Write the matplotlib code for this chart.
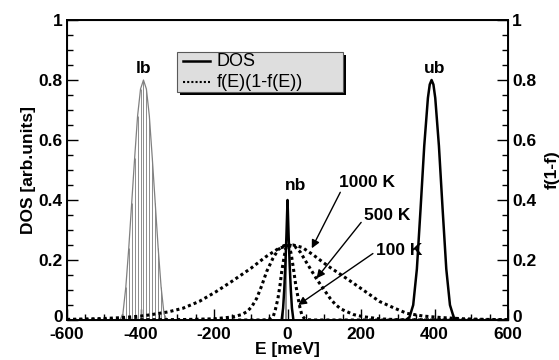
import numpy as np
import matplotlib
matplotlib.use("Agg")
from matplotlib import pyplot as plt
from matplotlib.patches import Rectangle
from matplotlib.transforms import ScaledTranslation

# lower band (filled, hatched with vertical lines)
lb_E = [-456, -448, -440, -432, -424, -416, -408, -400, -392, -384, -376, -368, -360, -352, -344, -336, -328]
lb_dos = [0.0, 0.02, 0.11, 0.24, 0.39, 0.54, 0.68, 0.77, 0.80, 0.77, 0.68, 0.54, 0.39, 0.24, 0.11, 0.02, 0.0]

# narrow band at the Fermi level
nb_E = [-16, -12, -9, -6, -3, 0, 3, 6, 9, 12, 16]
nb_dos = [0.0, 0.04, 0.10, 0.18, 0.28, 0.40, 0.28, 0.18, 0.10, 0.04, 0.0]
nb_fill_E = [-12, -8, -4]
nb_fill_dos = [0.04, 0.13, 0.27]

# upper band
ub_E = [322, 332, 342, 352, 362, 372, 382, 387, 392, 397, 402, 412, 422, 432, 442, 452, 462]
ub_dos = [0.0, 0.01, 0.05, 0.17, 0.37, 0.58, 0.74, 0.785, 0.80, 0.785, 0.74, 0.58, 0.37, 0.17, 0.05, 0.01, 0.0]

# f(E)(1-f(E)) curves
E_1000 = [-600, -500, -450, -400, -375, -325, -285, -240, -195, -150, -100, -60, -25, 0, 15,
          40, 70, 110, 160, 200, 250, 290, 325, 370, 420, 480, 540, 600]
f_1000 = [0.002, 0.005, 0.008, 0.013, 0.017, 0.027, 0.039, 0.062, 0.094, 0.130, 0.172, 0.210, 0.238, 0.248, 0.25,
          0.242, 0.217, 0.180, 0.139, 0.105, 0.062, 0.040, 0.022, 0.013, 0.008, 0.004, 0.002, 0.001]

E_500 = [-600, -300, -200, -150, -125, -110, -97, -84, -70, -57, -40, -25, -10, 5, 20, 35,
         50, 65, 80, 100, 116, 130, 145, 161, 180, 206, 250, 300, 600]
f_500 = [0.0, 0.001, 0.004, 0.010, 0.018, 0.028, 0.045, 0.072, 0.115, 0.161, 0.205, 0.235, 0.248, 0.25, 0.245, 0.226,
         0.195, 0.165, 0.135, 0.100, 0.072, 0.052, 0.037, 0.028, 0.018, 0.011, 0.004, 0.001, 0.0]

E_100 = [-600, -70, -55, -45, -39, -33, -26, -20, -16, -10, -5, 0, 5, 10, 16, 22, 29, 34, 39, 45, 55, 70, 600]
f_100 = [0.0, 0.0, 0.001, 0.005, 0.011, 0.035, 0.072, 0.120, 0.160, 0.205, 0.238, 0.25, 0.245, 0.22, 0.172,
         0.12, 0.072, 0.040, 0.017, 0.006, 0.001, 0.0, 0.0]

ytick_vals = [0, 0.2, 0.4, 0.6, 0.8, 1.0]
ytick_labels = ['0', '0.2', '0.4', '0.6', '0.8', '1']
xtick_vals = [-600, -400, -200, 0, 200, 400, 600]

plt.rcParams['font.family'] = ['Liberation Sans', 'DejaVu Sans']
plt.rcParams['font.weight'] = 'bold'
plt.rcParams['axes.labelweight'] = 'bold'
plt.rcParams['axes.unicode_minus'] = False
fs = 12.5

fig = plt.figure(figsize=(5.59, 3.60), dpi=100)
ax = fig.add_axes([0.1199, 0.1111, 0.7889, 0.8333])

# occupied states: thin grey vertical lines
ax.vlines(lb_E, 0, lb_dos, colors='0.55', linewidth=0.7)
ax.plot(lb_E, lb_dos, color='0.5', linewidth=0.9)
ax.vlines(nb_fill_E, 0, nb_fill_dos, colors='0.55', linewidth=0.7)

ax.plot(nb_E, nb_dos, color='k', linewidth=1.8)
ax.plot(ub_E, ub_dos, color='k', linewidth=1.8)

dot = (0, (1, 1))
ax.plot(E_1000, f_1000, color='k', linewidth=2.2, linestyle=dot)
ax.plot(E_500, f_500, color='k', linewidth=2.2, linestyle=dot)
ax.plot(E_100, f_100, color='k', linewidth=2.2, linestyle=dot)

ax.text(-393, 0.84, 'lb', ha='center', va='center', fontsize=fs)
ax.text(401, 0.84, 'ub', ha='center', va='center', fontsize=fs)
ax.text(22, 0.45, 'nb', ha='center', va='center', fontsize=fs)

arrow = dict(arrowstyle='-|>', color='k', linewidth=1.0, mutation_scale=12, shrinkA=0, shrinkB=0)
ax.annotate('1000 K', xy=(66, 0.239), xytext=(216, 0.46), ha='center', va='center', fontsize=fs,
            arrowprops=dict(arrow, relpos=(0.05, 0.0)))
ax.annotate('500 K', xy=(79, 0.139), xytext=(271, 0.347), ha='center', va='center', fontsize=fs,
            arrowprops=dict(arrow, relpos=(0.0, 0.3)))
ax.annotate('100 K', xy=(29, 0.05), xytext=(303, 0.233), ha='center', va='center', fontsize=fs,
            arrowprops=dict(arrow, relpos=(0.0, 0.4)))

ax.set_xlim(-600, 600)
ax.set_ylim(0, 1)
ax.set_xticks(xtick_vals)
ax.set_xticks(np.arange(-600, 601, 50), minor=True)
ax.set_yticks(ytick_vals)
ax.set_yticklabels(ytick_labels)
ax.set_yticks(np.arange(0, 1.001, 0.05), minor=True)
ax.tick_params(which='both', direction='in', labelsize=fs, width=1.0, top=False)
ax.tick_params(which='major', length=8)
ax.tick_params(which='minor', length=4)
ax.tick_params(axis='x', pad=5)
ax.tick_params(axis='y', pad=3)
ax.set_xlabel('E [meV]', fontsize=fs, labelpad=0)
ax.set_ylabel('DOS [arb.units]', fontsize=fs, labelpad=2)
for s in ax.spines.values():
    s.set_linewidth(1.4)

ax2 = ax.twinx()
ax2.set_ylim(0, 1)
ax2.set_yticks(ytick_vals)
ax2.set_yticklabels(ytick_labels)
ax2.set_yticks(np.arange(0, 1.001, 0.05), minor=True)
ax2.tick_params(which='both', direction='in', labelsize=fs, width=1.0, pad=3)
ax2.tick_params(which='major', length=8)
ax2.tick_params(which='minor', length=4)
ax2.set_ylabel('f(1-f)', fontsize=fs, labelpad=6)

# lift the "0" labels a little so they clear the x tick labels
lift = ScaledTranslation(0, 3 / 72, fig.dpi_scale_trans)
for lab in (ax.get_yticklabels()[0], ax2.get_yticklabels()[0]):
    lab.set_transform(lab.get_transform() + lift)

# legend box drawn by hand (grey box with black drop shadow)
bx0, by0, bw, bh = 0.2494, 0.76, 0.3765, 0.1333
sh = Rectangle((bx0 + 0.007, by0 - 0.01), bw, bh, transform=ax.transAxes,
               facecolor='k', edgecolor='none', zorder=5)
box = Rectangle((bx0, by0), bw, bh, transform=ax.transAxes,
                facecolor='#dedede', edgecolor='0.35', linewidth=0.8, zorder=6)
ax.add_patch(sh)
ax.add_patch(box)
ax.plot([0.263, 0.325], [0.862, 0.862], transform=ax.transAxes, color='k', linewidth=1.8, zorder=7)
ax.plot([0.263, 0.325], [0.792, 0.792], transform=ax.transAxes, color='k', linewidth=1.5,
        linestyle=dot, zorder=7)
ax.text(0.34, 0.862, 'DOS', transform=ax.transAxes, fontsize=13, fontweight='normal',
        va='center', ha='left', zorder=8)
ax.text(0.34, 0.792, 'f(E)(1-f(E))', transform=ax.transAxes, fontsize=13, fontweight='normal',
        va='center', ha='left', zorder=8)

fig.savefig('out.png', dpi=100)
